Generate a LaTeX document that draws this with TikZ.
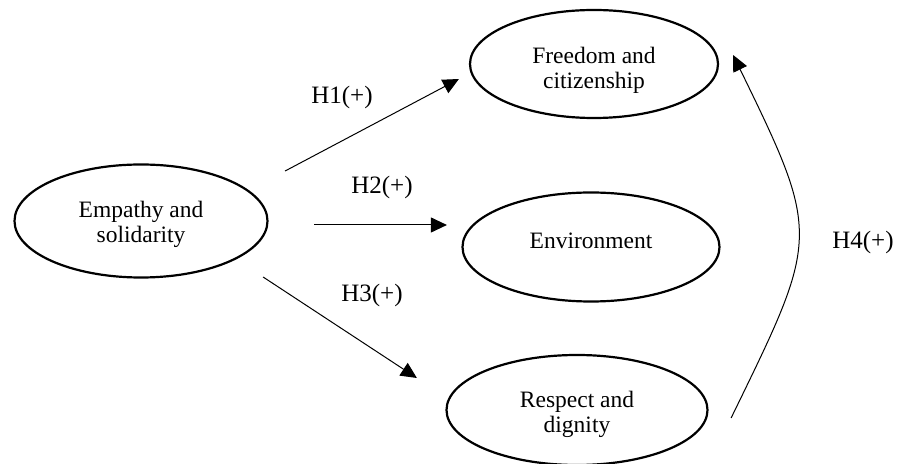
\documentclass[tikz,border=0pt]{standalone}
\usepackage{fontspec}
\setmainfont{Liberation Serif}
\usetikzlibrary{arrows.meta,shapes.geometric,calc}
\tikzset{
  construct/.style={ellipse,draw,line width=2.2pt,inner sep=0pt,align=center,font=\fontsize{23.5}{25}\selectfont},
  hyplabel/.style={font=\fontsize{25}{27}\selectfont},
  every edge/.style={draw,line width=1pt,-{Triangle[length=16pt,width=15pt]}}
}
\begin{document}
\begin{tikzpicture}[x=1pt,y=1pt]
  \useasboundingbox (0,0) rectangle (907,463);

  \node[construct,minimum width=253pt,minimum height=113pt] (emp) at (141,242) {\rule{0pt}{24pt}Empathy and\\solidarity};
  \node[construct,minimum width=248pt,minimum height=108pt] (fre) at (594,399) {\rule{0pt}{29pt}Freedom and\\citizenship};
  \node[construct,minimum width=257pt,minimum height=109pt] (env) at (591,216) {Environment\rule[-12pt]{0pt}{0pt}};
  \node[construct,minimum width=261pt,minimum height=110pt] (res) at (577,53) {\rule{0pt}{26pt}Respect and\\dignity};

  \coordinate (h1s) at ($(emp.east)+(16.5,50)$);
  \coordinate (h1e) at ($(fre.west)+(-10,-15)$);
  \coordinate (h2s) at ($(emp.east)+(45.5,-4)$);
  \coordinate (h2e) at ($(env.west)+(-14.5,22)$);
  \coordinate (h3s) at ($(emp.east)+(-5.5,-56)$);
  \coordinate (h3e) at ($(res.west)+(-28.5,32)$);
  \coordinate (h4s) at ($(res.east)+(22.5,-8)$);
  \coordinate (h4e) at ($(fre.east)+(14,9)$);

  \node[hyplabel] (l1) at (342,366) {H1(+)};
  \node[hyplabel] (l2) at (382,276) {H2(+)};
  \node[hyplabel] (l3) at (372,168) {H3(+)};
  \node[hyplabel] (l4) at (863,221) {H4(+)};

  \path
    (h1s) edge (h1e)
    (h2s) edge (h2e)
    (h3s) edge (h3e)
    (h4s) edge[out=64,in=-64,looseness=1.42] (h4e);
\end{tikzpicture}
\end{document}
